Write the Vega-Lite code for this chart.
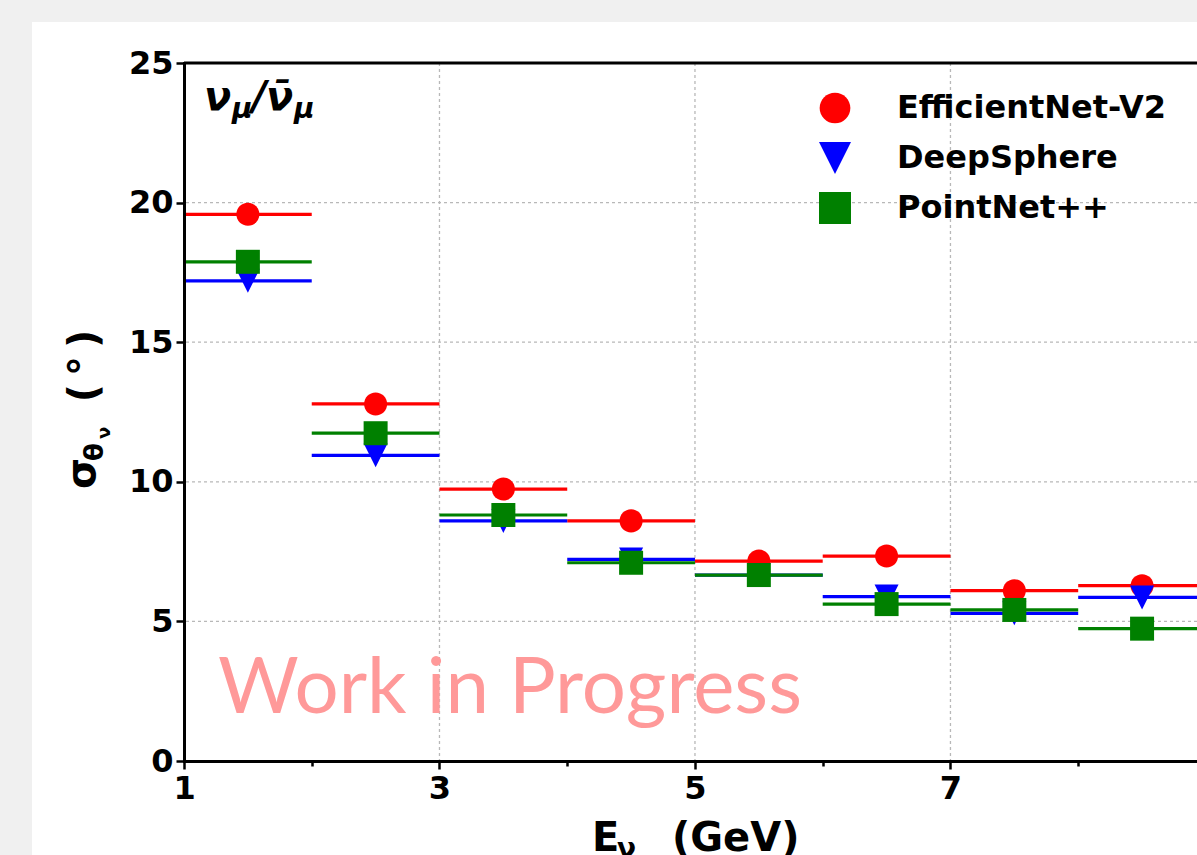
{
  "$schema": "https://vega.github.io/schema/vega-lite/v6.json",
  "width": 1013,
  "height": 698,
  "autosize": "none",
  "padding": {"left": 184, "top": 63, "right": 0, "bottom": 94},
  "background": "white",
  "config": {
    "view": {"stroke": null},
    "axis": {
      "domainColor": "black", "domainWidth": 3, "domainCap": "square",
      "tickColor": "black", "tickWidth": 2.5, "tickSize": 8,
      "labelFont": "DejaVu Sans", "labelFontSize": 32, "labelFontWeight": "bold", "labelColor": "black",
      "grid": false, "labelOverlap": false, "labelFlush": false
    },
    "legend": {"labelLimit": 600}
  },
  "layer": [
    {
      "data": {"values": [{}]},
      "mark": {"type": "rect", "clip": false, "color": "#f0f0f0"},
      "encoding": {
        "x": {"datum": -5, "type": "quantitative", "title": null,
          "scale": {"domain": [1, 8.93], "nice": false, "zero": false},
          "axis": {"zindex": 2, "values": [1, 2, 3, 4, 5, 6, 7, 8, 9], "format": "d",
            "labelExpr": "datum.value % 2 == 1 ? datum.label : ''",
            "tickSize": {"condition": {"test": "datum.value % 2 == 1", "value": 8}, "value": 5},
            "labelPadding": 4}},
        "x2": {"datum": -0.19},
        "y": {"datum": 40, "type": "quantitative", "title": null,
          "scale": {"domain": [0, 25], "nice": false, "zero": false},
          "axis": {"zindex": 2, "values": [0, 5, 10, 15, 20, 25], "labelPadding": 3}},
        "y2": {"datum": -20}
      }
    },
    {
      "data": {"values": [{}]},
      "mark": {"type": "rect", "clip": false, "color": "#f0f0f0"},
      "encoding": {
        "x": {"datum": -5, "type": "quantitative", "title": null},
        "x2": {"datum": 20},
        "y": {"datum": 40, "type": "quantitative", "title": null},
        "y2": {"datum": 26.47}
      }
    },
    {
      "data": {"values": [{"g": 3}, {"g": 5}, {"g": 7}]},
      "mark": {"type": "rule", "stroke": "#b8b8b8", "strokeWidth": 1.3, "strokeDash": [3, 3]},
      "encoding": {"x": {"field": "g", "type": "quantitative", "title": null, "scale": {"domain": [1, 8.93], "nice": false, "zero": false}}}
    },
    {
      "data": {"values": [{"g": 5}, {"g": 10}, {"g": 15}, {"g": 20}]},
      "mark": {"type": "rule", "stroke": "#b8b8b8", "strokeWidth": 1.3, "strokeDash": [3, 3]},
      "encoding": {"y": {"field": "g", "type": "quantitative", "title": null, "scale": {"domain": [0, 25], "nice": false, "zero": false}}}
    },
    {
      "data": {"name": "main"},
      "mark": {"type": "rule", "strokeWidth": 3.2},
      "encoding": {
        "x": {"field": "lo", "type": "quantitative", "title": null, "scale": {"domain": [1, 8.93], "nice": false, "zero": false}},
        "x2": {"field": "hi"},
        "y": {"field": "v", "type": "quantitative", "title": null, "scale": {"domain": [0, 25], "nice": false, "zero": false}},
        "stroke": {"condition": [
            {"test": "datum.model === 'DeepSphere'", "value": "#0000ff"},
            {"test": "datum.model === 'PointNet++'", "value": "#008000"}],
          "value": "#ff0000"}
      }
    },
    {
      "data": {"name": "main"},
      "mark": {"type": "point", "filled": true, "size": 576, "opacity": 1, "strokeWidth": 0},
      "encoding": {
        "x": {"field": "mid", "type": "quantitative", "title": null, "scale": {"domain": [1, 8.93], "nice": false, "zero": false}},
        "y": {"field": "v", "type": "quantitative", "title": null, "scale": {"domain": [0, 25], "nice": false, "zero": false}},
        "color": {"field": "model", "type": "nominal", "title": null,
          "scale": {"domain": ["EfficientNet-V2", "DeepSphere", "PointNet++"], "range": ["#ff0000", "#0000ff", "#008000"]},
          "legend": {"zindex": 2, "orient": "none", "legendX": 635, "legendY": 29, "padding": 0,
            "labelFont": "DejaVu Sans", "labelFontSize": 32, "labelFontWeight": "bold", "labelColor": "black",
            "labelOffset": 46, "symbolSize": 1024, "symbolStrokeWidth": 0, "symbolOpacity": 1, "rowPadding": 18,
            "encode": {"symbols": {"update": {
              "shape": {"signal": "datum.value === 'EfficientNet-V2' ? 'M-0.8,0A0.8,0.8 0 1,1 0.8,0A0.8,0.8 0 1,1 -0.8,0ZM-1,-0.1H1V0.1H-1ZM-0.1,-1H0.1V1H-0.1Z' : datum.value === 'DeepSphere' ? 'M-0.75,-0.75H0.75L0,0.75ZM-1,-0.1H1V0.1H-1ZM-0.1,-1H0.1V1H-0.1Z' : 'M-0.75,-0.75H0.75V0.75H-0.75ZM-1,-0.1H1V0.1H-1ZM-0.1,-1H0.1V1H-0.1Z'"}}}}}},
        "shape": {"field": "model", "type": "nominal", "title": null,
          "scale": {"domain": ["EfficientNet-V2", "DeepSphere", "PointNet++"],
            "range": ["M-0.96,0A0.96,0.96 0 1,1 0.96,0A0.96,0.96 0 1,1 -0.96,0Z", "M-1,-1H1L0,1Z", "M-1,-1H1V1H-1Z"]}}
      }
    },
    {
      "data": {"values": [{}]},
      "mark": {"type": "text", "text": "Work in Progress", "font": "Lato", "fontSize": 78, "color": "#ff9999", "align": "center", "baseline": "alphabetic", "clip": false},
      "encoding": {"x": {"datum": 3.552}, "y": {"datum": 1.72}}
    },
    {
      "data": {"values": [{}]},
      "mark": {"type": "text", "text": "\u03bd", "font": "DejaVu Sans", "fontSize": 40, "fontWeight": "bold", "fontStyle": "italic", "color": "black", "align": "left", "baseline": "alphabetic", "clip": false},
      "encoding": {"x": {"datum": 1.157}, "y": {"datum": 23.316}}
    },
    {
      "data": {"values": [{}]},
      "mark": {"type": "text", "text": "\u03bc", "font": "DejaVu Sans", "fontSize": 28, "fontWeight": "bold", "fontStyle": "italic", "color": "black", "align": "left", "baseline": "alphabetic", "clip": false},
      "encoding": {"x": {"datum": 1.376}, "y": {"datum": 23.03}}
    },
    {
      "data": {"values": [{}]},
      "mark": {"type": "text", "text": "/", "font": "DejaVu Sans", "fontSize": 40, "fontWeight": "bold", "fontStyle": "italic", "color": "black", "align": "left", "baseline": "alphabetic", "clip": false},
      "encoding": {"x": {"datum": 1.532}, "y": {"datum": 23.316}}
    },
    {
      "data": {"values": [{}]},
      "mark": {"type": "text", "text": "\u03bd\u0304", "font": "DejaVu Sans", "fontSize": 40, "fontWeight": "bold", "fontStyle": "italic", "color": "black", "align": "left", "baseline": "alphabetic", "clip": false},
      "encoding": {"x": {"datum": 1.642}, "y": {"datum": 23.316}}
    },
    {
      "data": {"values": [{}]},
      "mark": {"type": "text", "text": "\u03bc", "font": "DejaVu Sans", "fontSize": 28, "fontWeight": "bold", "fontStyle": "italic", "color": "black", "align": "left", "baseline": "alphabetic", "clip": false},
      "encoding": {"x": {"datum": 1.861}, "y": {"datum": 23.03}}
    },
    {
      "data": {"values": [{}]},
      "mark": {"type": "text", "text": "E", "font": "DejaVu Sans", "fontSize": 40, "fontWeight": "bold", "color": "black", "align": "left", "baseline": "alphabetic", "clip": false},
      "encoding": {"x": {"datum": 4.194}, "y": {"datum": -3.22}}
    },
    {
      "data": {"values": [{}]},
      "mark": {"type": "text", "text": "\u03bd", "font": "DejaVu Sans", "fontSize": 28, "fontWeight": "bold", "color": "black", "align": "left", "baseline": "alphabetic", "clip": false},
      "encoding": {"x": {"datum": 4.389}, "y": {"datum": -3.474}}
    },
    {
      "data": {"values": [{}]},
      "mark": {"type": "text", "text": "(GeV)", "font": "DejaVu Sans", "fontSize": 40, "fontWeight": "bold", "color": "black", "align": "left", "baseline": "alphabetic", "clip": false},
      "encoding": {"x": {"datum": 4.82}, "y": {"datum": -3.22}}
    },
    {
      "data": {"values": [{}]},
      "mark": {"type": "text", "text": "\u03c3", "font": "DejaVu Sans", "fontSize": 40, "fontWeight": "bold", "color": "black", "align": "left", "baseline": "alphabetic", "angle": 270, "clip": false},
      "encoding": {"x": {"datum": 0.3033}, "y": {"datum": 9.742}}
    },
    {
      "data": {"values": [{}]},
      "mark": {"type": "text", "text": "\u03b8", "font": "DejaVu Sans", "fontSize": 26, "fontWeight": "bold", "color": "black", "align": "left", "baseline": "alphabetic", "angle": 270, "clip": false},
      "encoding": {"x": {"datum": 0.366}, "y": {"datum": 10.745}}
    },
    {
      "data": {"values": [{}]},
      "mark": {"type": "text", "text": "\u03bd", "font": "DejaVu Sans", "fontSize": 18, "fontWeight": "bold", "color": "black", "align": "left", "baseline": "alphabetic", "angle": 270, "clip": false},
      "encoding": {"x": {"datum": 0.421}, "y": {"datum": 11.533}}
    },
    {
      "data": {"values": [{}]},
      "mark": {"type": "text", "text": "(\u2009\u00b0\u2009)", "font": "DejaVu Sans", "fontSize": 40, "fontWeight": "bold", "color": "black", "align": "left", "baseline": "alphabetic", "angle": 270, "clip": false},
      "encoding": {"x": {"datum": 0.3175}, "y": {"datum": 12.85}}
    },
    {
      "data": {"values": [{}]},
      "mark": {"type": "rule", "color": "black", "strokeWidth": 3},
      "encoding": {"y": {"datum": 25}}
    }
  ],
  "datasets": {
    "main": [
      {"model": "EfficientNet-V2", "lo": 1, "mid": 1.5, "hi": 2, "v": 19.58},
      {"model": "EfficientNet-V2", "lo": 2, "mid": 2.5, "hi": 3, "v": 12.79},
      {"model": "EfficientNet-V2", "lo": 3, "mid": 3.5, "hi": 4, "v": 9.74},
      {"model": "EfficientNet-V2", "lo": 4, "mid": 4.5, "hi": 5, "v": 8.60},
      {"model": "EfficientNet-V2", "lo": 5, "mid": 5.5, "hi": 6, "v": 7.16},
      {"model": "EfficientNet-V2", "lo": 6, "mid": 6.5, "hi": 7, "v": 7.34},
      {"model": "EfficientNet-V2", "lo": 7, "mid": 7.5, "hi": 8, "v": 6.10},
      {"model": "EfficientNet-V2", "lo": 8, "mid": 8.5, "hi": 9, "v": 6.28},
      {"model": "DeepSphere", "lo": 1, "mid": 1.5, "hi": 2, "v": 17.20},
      {"model": "DeepSphere", "lo": 2, "mid": 2.5, "hi": 3, "v": 10.95},
      {"model": "DeepSphere", "lo": 3, "mid": 3.5, "hi": 4, "v": 8.60},
      {"model": "DeepSphere", "lo": 4, "mid": 4.5, "hi": 5, "v": 7.22},
      {"model": "DeepSphere", "lo": 5, "mid": 5.5, "hi": 6, "v": 6.66},
      {"model": "DeepSphere", "lo": 6, "mid": 6.5, "hi": 7, "v": 5.89},
      {"model": "DeepSphere", "lo": 7, "mid": 7.5, "hi": 8, "v": 5.29},
      {"model": "DeepSphere", "lo": 8, "mid": 8.5, "hi": 9, "v": 5.86},
      {"model": "PointNet++", "lo": 1, "mid": 1.5, "hi": 2, "v": 17.88},
      {"model": "PointNet++", "lo": 2, "mid": 2.5, "hi": 3, "v": 11.74},
      {"model": "PointNet++", "lo": 3, "mid": 3.5, "hi": 4, "v": 8.81},
      {"model": "PointNet++", "lo": 4, "mid": 4.5, "hi": 5, "v": 7.10},
      {"model": "PointNet++", "lo": 5, "mid": 5.5, "hi": 6, "v": 6.66},
      {"model": "PointNet++", "lo": 6, "mid": 6.5, "hi": 7, "v": 5.62},
      {"model": "PointNet++", "lo": 7, "mid": 7.5, "hi": 8, "v": 5.41},
      {"model": "PointNet++", "lo": 8, "mid": 8.5, "hi": 9, "v": 4.74}
    ]
  }
}
